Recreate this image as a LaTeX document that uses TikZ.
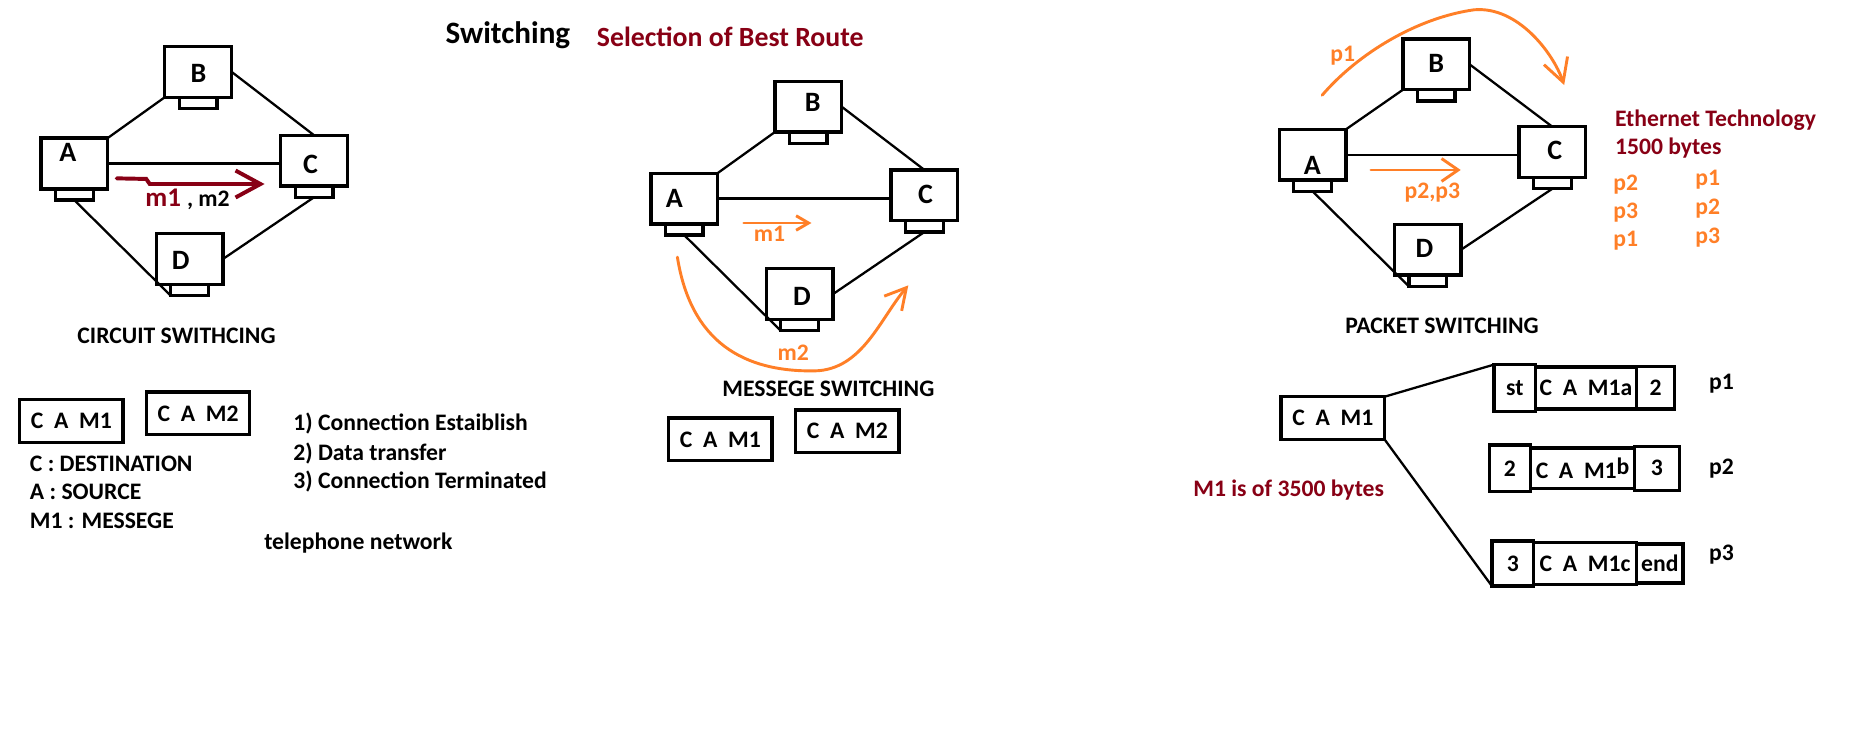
\documentclass[tikz,border=0pt]{standalone}
\usepackage{fontspec}
\setmainfont{Carlito}
\usepackage{tikz}
\usetikzlibrary{positioning,arrows.meta}

\definecolor{paintred}{HTML}{880015}
\definecolor{paintorange}{HTML}{FF7F27}

\begin{document}
\begin{tikzpicture}[
  x=0.02cm, y=-0.02cm,
  screen/.style={draw, rectangle, line width=1.6pt, outer sep=0pt, inner sep=0pt, minimum width=1.13cm, minimum height=0.86cm},
  stand/.style={draw, rectangle, line width=1.6pt, outer sep=0pt, inner sep=0pt, minimum width=0.64cm, minimum height=0.19cm},
  pcname/.style={inner sep=0pt, font=\bfseries\fontsize{13.5}{16}\selectfont},
  link/.style={line width=1.1pt},
  txt/.style={anchor=base west, inner sep=0pt, font=\bfseries\fontsize{11.4}{13}\selectfont},
  note/.style={txt, text=paintred},
  flow/.style={txt, text=paintorange},
  msgbox/.style={draw, rectangle, line width=1.6pt, outer sep=0pt, inner sep=0pt, minimum width=1.75cm, minimum height=0.72cm, font=\bfseries\fontsize{11.4}{13}\selectfont},
  frag/.style={draw, rectangle, line width=1.6pt, outer sep=0pt, inner sep=0pt, font=\bfseries\fontsize{11.4}{13}\selectfont},
  redarrow/.style={line width=1.9pt, paintred, line cap=round},
  orangearrow/.style={line width=1.4pt, paintorange, line cap=round}
]
\path[use as bounding box, fill=white] (0,0) rectangle (1568,629);

% Titles
\node[txt, font=\bfseries\fontsize{15}{18}\selectfont] (title) at (377,36.6) {Switching};
\node[note, font=\bfseries\fontsize{13.4}{16}\selectfont] (route) at (505,39.5) {Selection of Best Route};

% Circuit switching network
\node[screen] (ca) at (62.9,138.4) {};
\node[screen] (cb) at (167.8,60.8) {};
\node[screen] (cc) at (265.9,136) {};
\node[screen] (cd) at (160.5,219.3) {};
\node[stand, below=0pt of ca] (cas) {};
\node[stand, below=0pt of cb] (cbs) {};
\node[stand, below=0pt of cc] (ccs) {};
\node[stand, below=0pt of cd] (cds) {};
\node[pcname] (caname) at (57.5,129) {A};
\node[pcname] (cbname) at (168,62) {B};
\node[pcname] (ccname) at (263,139) {C};
\node[pcname] (cdname) at (153,220.5) {D};

\draw[link] (ca.north east) -- (cb.south west);
\draw[link] (cb.east) -- (cc.north);
\draw[link] (ca.east) -- (ca.east -| cc.west);
\draw[link] (cas.south) -- (cds.south west);
\draw[link] (ccs.south) -- (cd.east);

\coordinate (rs) at (98.8,151);
\coordinate (re) at (224,155.8);
\draw[redarrow, -{Straight Barb[length=12pt,width=13pt]}] (rs) -- ++(25,0.5) -- ++(3,4.3) -- (re);
\node[note, font=\bfseries\fontsize{13}{15}\selectfont] (cm1) at (122.8,175) {m1};
\node[txt] (cm2) at (158,175) {,\ m2};

\node[txt] (ctitle) at (65.2,290.6) {CIRCUIT SWITHCING};

% Circuit switching notes
\node[msgbox] (ccam1) at (60.4,356.5) {C\ \ A\ \ M1};
\node[msgbox] (ccam2) at (167.7,350) {C\ \ A\ \ M2};
\node[txt] (dest) at (25,399) {C : DESTINATION};
\node[txt] (src) at (25,422.8) {A : SOURCE};
\node[txt] (msg) at (25,447.2) {M1 : MESSEGE};
\node[txt] (step1) at (248,364.3) {1) Connection Estaiblish};
\node[txt] (step2) at (248,389.6) {2) Data transfer};
\node[txt] (step3) at (248,413.6) {3) Connection Terminated};
\node[txt] (phone) at (223.4,465) {telephone network};

% Message switching network
\node[screen] (ma) at (579.3,168.1) {};
\node[screen] (mb) at (684.3,90.3) {};
\node[screen] (mc) at (782.7,165.4) {};
\node[screen] (md) at (677,249) {};
\node[stand, below=0pt of ma] (mas) {};
\node[stand, below=0pt of mb] (mbs) {};
\node[stand, below=0pt of mc] (mcs) {};
\node[stand, below=0pt of md] (mds) {};
\node[pcname] (maname) at (571,168) {A};
\node[pcname] (mbname) at (688,87) {B};
\node[pcname] (mcname) at (783.5,165) {C};
\node[pcname] (mdname) at (679,251) {D};

\draw[link] (ma.north east) -- (mb.south west);
\draw[link] (mb.east) -- (mc.north);
\draw[link] (ma.east) -- (ma.east -| mc.west);
\draw[link] (mas.south) -- (mds.south west);
\draw[link] (mcs.south) -- (md.east);

\coordinate (m1s) at (629.7,188.8);
\coordinate (m1e) at (687,188.8);
\draw[orangearrow, -{Straight Barb[length=6pt,width=7pt]}] (m1s) -- (m1e);
\node[flow] (mm1) at (638,204.5) {m1};

\coordinate (m2s) at (573.5,217.7);
\coordinate (m2e) at (769,241.6);
\draw[orangearrow, -{Straight Barb[length=10pt,width=11pt]}] (m2s) .. controls (585,290) and (630,315) .. (690,314) .. controls (730,313) and (745,270) .. (m2e);
\node[flow] (mm2) at (658,305) {m2};

\node[txt] (mtitle) at (611.3,335.6) {MESSEGE SWITCHING};
\node[msgbox] (mcam1) at (609.9,372) {C\ \ A\ \ M1};
\node[msgbox] (mcam2) at (717.4,365) {C\ \ A\ \ M2};

% Packet switching network
\node[screen] (pa) at (1111.3,131) {};
\node[screen] (pb) at (1216,54.5) {};
\node[screen] (pc) at (1314.3,128.8) {};
\node[screen] (pd) at (1208.8,211.4) {};
\node[stand, below=0pt of pa] (pas) {};
\node[stand, below=0pt of pb] (pbs) {};
\node[stand, below=0pt of pc] (pcs) {};
\node[stand, below=0pt of pd] (pds) {};
\node[pcname] (paname) at (1111,140) {A};
\node[pcname] (pbname) at (1216,54) {B};
\node[pcname] (pcname) at (1316.4,127) {C};
\node[pcname] (pdname) at (1206,210.6) {D};

\draw[link] (pa.north east) -- (pb.south west);
\draw[link] (pb.east) -- (pc.north);
\draw[link] (pa.east) -- (pa.east -| pc.west);
\draw[link] (pas.south) -- (pds.south west);
\draw[link] (pcs.south) -- (pd.east);

\coordinate (p1s) at (1119.4,80.6);
\coordinate (p1e) at (1324.3,72);
\draw[orangearrow, -{Straight Barb[length=11pt,width=12pt]}] (p1s) .. controls (1150,45) and (1200,15) .. (1248,8.3) .. controls (1285,5) and (1315,45) .. (p1e);
\node[flow] (pp1) at (1126,52.2) {p1};

\coordinate (p23s) at (1160.7,143.9);
\coordinate (p23e) at (1236.7,143.9);
\draw[orangearrow, -{Straight Barb[length=8pt,width=11pt]}] (p23s) -- (p23e);
\node[flow] (pp23) at (1188.8,168) {p2,p3};

\node[note] (ether) at (1367,107.3) {Ethernet Technology};
\node[note] (mtu) at (1367,131) {1500 bytes};
\node[flow] (sent2) at (1365.6,161) {p2};
\node[flow] (sent3) at (1365.6,185) {p3};
\node[flow] (sent1) at (1365.6,209) {p1};
\node[flow] (got1) at (1435,157) {p1};
\node[flow] (got2) at (1435,182) {p2};
\node[flow] (got3) at (1435,206) {p3};

\node[txt] (ptitle) at (1138.6,282.6) {PACKET SWITCHING};

% Packets
\node[msgbox] (pcam) at (1128.4,353.9) {C\ \ A\ \ M1};
\node[note] (size) at (1010,420.5) {M1 is of 3500 bytes};

\node[frag, minimum width=0.7cm, minimum height=0.79cm] (f1a) at (1282.5,328.4) {st};
\node[frag, minimum width=1.71cm, minimum height=0.71cm, right=0pt of f1a] (f1b) {C\ \ A\ \ M1a};
\node[frag, minimum width=0.65cm, minimum height=0.72cm, right=0pt of f1b] (f1c) {2};

\node[frag, minimum width=0.7cm, minimum height=0.79cm] (f2a) at (1278.4,396.5) {2};
\node[frag, minimum width=1.76cm, minimum height=0.69cm, right=0pt of f2a] (f2b) {C\ \ A\ \ M1\raisebox{2pt}{b}};
\node[frag, minimum width=0.76cm, minimum height=0.74cm, right=0pt of f2b] (f2c) {3};

\node[frag, minimum width=0.71cm, minimum height=0.76cm] (f3a) at (1280.8,477.1) {3};
\node[frag, minimum width=1.74cm, minimum height=0.71cm, right=0pt of f3a] (f3b) {C\ \ A\ \ M1c};
\node[frag, minimum width=0.79cm, minimum height=0.66cm, right=0pt of f3b] (f3c) {end};

\draw[link] (pcam.north east) -- (f1a.north west);
\draw[link] (pcam.south east) -- (f3a.south west);

\node[txt] (lp1) at (1446.6,329.7) {p1};
\node[txt] (lp2) at (1446.6,401.8) {p2};
\node[txt] (lp3) at (1446.6,474.6) {p3};

\end{tikzpicture}
\end{document}
